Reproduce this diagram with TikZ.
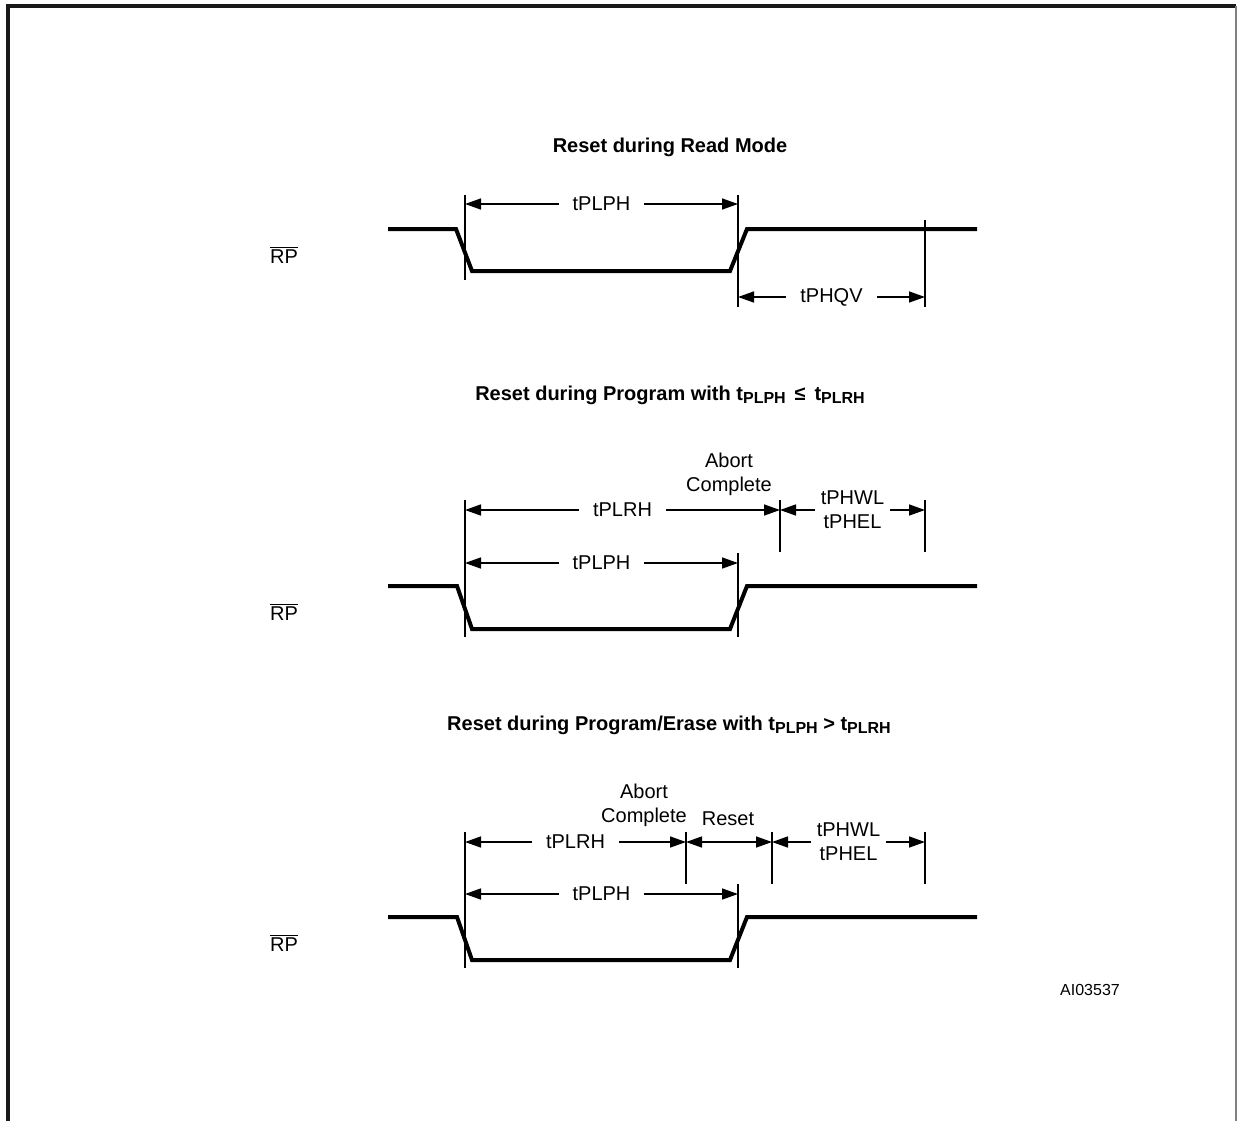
\documentclass[tikz,border=0pt]{standalone}
\usepackage{fontspec}
\setmainfont{Liberation Sans}
\usetikzlibrary{arrows.meta}
\newcommand\tsub[1]{\raisebox{-0.35ex}{\fontsize{8}{8}\selectfont #1}}
\begin{document}
\begin{tikzpicture}[x=0.5pt, y=-0.5pt, font=\fontsize{10}{12}\selectfont]
\tikzset{
  wave/.style={line width=2pt, line join=miter},
  tick/.style={line width=1pt},
  dim/.style={{Triangle[length=8pt,width=5.5pt]}-{Triangle[length=8pt,width=5.5pt]}, line width=0.75pt},
  lbl/.style={fill=white, inner xsep=7pt, inner ysep=1pt},
  lbl2/.style={fill=white, inner xsep=3pt, inner ysep=0pt, align=center}
}
\useasboundingbox (0,0) rectangle (1237,1120);
% frame
\draw[line width=1.6pt, black!90] (8,1130) -- (8,6) -- (1236,6);
\draw[line width=0.6pt, black!50] (1236,6) -- (1236,1130);

% reset during read mode
\node (t1) at (670,147) {\bfseries Reset during Read Mode};
\node (rp1) at (284,255) {$\overline{\mbox{RP}}$};
\draw[wave] (388,229) -- (456,229) -- (472,271) -- (730,271) -- (747,229) -- (977,229);
\coordinate (fall1) at (465,204);
\coordinate (rise1) at (738,204);
\coordinate (rise1b) at (738,297);
\coordinate (qv1) at (925,297);
\draw[tick] (465,195) -- (465,280);
\draw[tick] (738,195) -- (738,307);
\draw[tick] (925,220) -- (925,307);
\draw[dim] (fall1) -- node[lbl] (plph1) {tPLPH} (rise1);
\draw[dim] (rise1b) -- node[lbl] (phqv1) {tPHQV} (qv1);

% reset during program, tPLPH <= tPLRH
\node (t2) at (670,395) {\bfseries Reset during Program with t\tsub{PLPH} \,≤\, t\tsub{PLRH}};
\node (rp2) at (284,612) {$\overline{\mbox{RP}}$};
\draw[wave] (388,586) -- (457,586) -- (472,629) -- (730,629) -- (747,586) -- (977,586);
\coordinate (fall2) at (465,510);
\coordinate (abort2) at (780,510);
\coordinate (wl2) at (925,510);
\coordinate (fall2b) at (465,563);
\coordinate (rise2) at (738,563);
\draw[tick] (465,500) -- (465,637);
\draw[tick] (738,553) -- (738,637);
\draw[tick] (780,500) -- (780,552);
\draw[tick] (925,500) -- (925,552);
\draw[dim] (fall2) -- node[lbl] (plrh2) {tPLRH} (abort2);
\draw[dim] (abort2) -- node[lbl2] (phwl2) {tPHWL\\tPHEL} (wl2);
\draw[dim] (fall2b) -- node[lbl] (plph2) {tPLPH} (rise2);
\node[align=center] (ac2) at (729,474) {Abort\\Complete};

% reset during program/erase, tPLPH > tPLRH
\node (t3) at (669,725) {\bfseries Reset during Program/Erase with t\tsub{PLPH} > t\tsub{PLRH}};
\node (rp3) at (284,943) {$\overline{\mbox{RP}}$};
\draw[wave] (388,917) -- (457,917) -- (472,960) -- (730,960) -- (747,917) -- (977,917);
\coordinate (fall3) at (465,842);
\coordinate (abort3) at (686,842);
\coordinate (reset3) at (772,842);
\coordinate (wl3) at (925,842);
\coordinate (fall3b) at (465,894);
\coordinate (rise3) at (738,894);
\draw[tick] (465,832) -- (465,968);
\draw[tick] (738,884) -- (738,968);
\draw[tick] (686,832) -- (686,884);
\draw[tick] (772,832) -- (772,884);
\draw[tick] (925,832) -- (925,884);
\draw[dim] (fall3) -- node[lbl] (plrh3) {tPLRH} (abort3);
\draw[dim] (abort3) -- (reset3);
\draw[dim] (reset3) -- node[lbl2] (phwl3) {tPHWL\\tPHEL} (wl3);
\draw[dim] (fall3b) -- node[lbl] (plph3) {tPLPH} (rise3);
\node[align=center] (ac3) at (644,805) {Abort\\Complete};
\node (rs3) at (728,819) {Reset};

\node[font=\fontsize{8}{10}\selectfont] (id) at (1090,990) {AI03537};
\end{tikzpicture}
\end{document}
